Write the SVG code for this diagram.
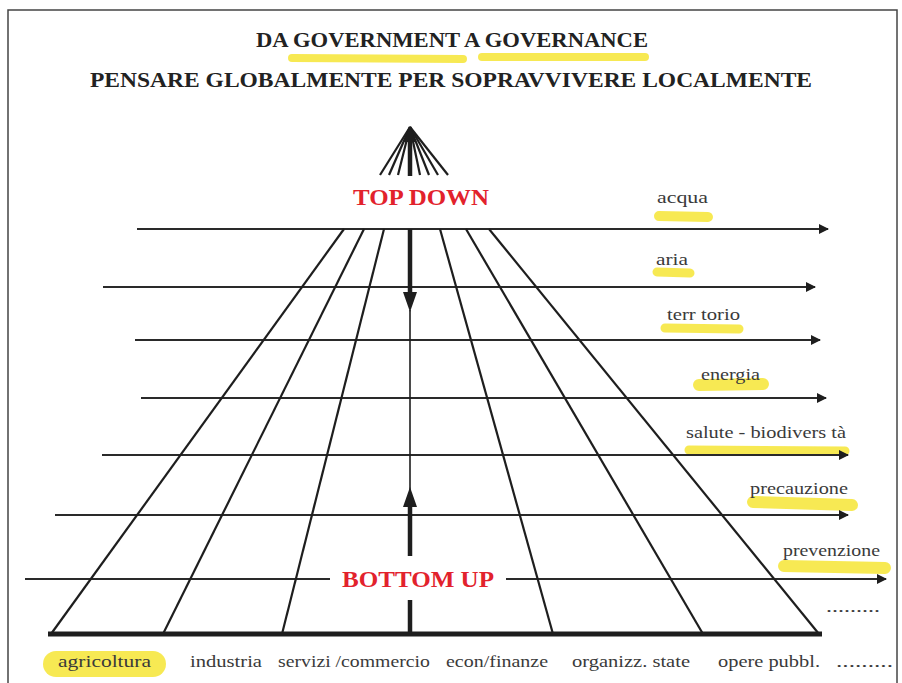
<svg xmlns="http://www.w3.org/2000/svg" width="902" height="683" viewBox="0 0 902 683">
<defs>
<style>
.title{font-family:"Liberation Serif","Times New Roman",serif;font-weight:bold;fill:#222}
.red{font-family:"Liberation Serif","Times New Roman",serif;font-weight:bold;fill:#e2222c;font-size:23px}
.lbl{font-family:"Liberation Serif","Times New Roman",serif;fill:#3a3a3a;font-size:17px}
.blbl{font-family:"Liberation Serif","Times New Roman",serif;fill:#3a3a3a;font-size:17px}
.hl{stroke:#f6e535;stroke-linecap:round;fill:none;opacity:0.85}
.h{stroke:#2a2a2a;stroke-width:2;fill:none}
.fan{stroke:#1e1e1e;stroke-width:2.2;fill:none}
.thick{stroke:#1e1e1e;stroke-width:4.5;fill:none}
</style>
<marker id="ah" viewBox="0 0 10 10" refX="9" refY="5" markerWidth="12" markerHeight="10" markerUnits="userSpaceOnUse" orient="auto">
<path d="M0,0 L10,5 L0,10 z" fill="#1e1e1e"/>
</marker>
</defs>
<rect x="0" y="0" width="902" height="683" fill="#fff"/>
<rect x="8" y="10" width="889" height="700" fill="none" stroke="#444" stroke-width="1.5"/>

<g id="highlights">
<path class="hl" d="M292,58 L463,59" stroke-width="8"/>
<path class="hl" d="M482,57 L645,57" stroke-width="8"/>
<path class="hl" d="M659,216 L708,217" stroke-width="10"/>
<path class="hl" d="M657,272 L690,273" stroke-width="9"/>
<path class="hl" d="M665,328 L739,329" stroke-width="9"/>
<path class="hl" d="M699,385 L763,384" stroke-width="12"/>
<path class="hl" d="M689,450 L845,451" stroke-width="9"/>
<path class="hl" d="M753,502 L852,505" stroke-width="12"/>
<path class="hl" d="M784,566 L885,568" stroke-width="12"/>
<path class="hl" d="M56,664 L153,664" stroke-width="26"/>
</g>

<g id="title">
<text class="title" x="256" y="47" font-size="21" textLength="392" lengthAdjust="spacingAndGlyphs">DA GOVERNMENT A GOVERNANCE</text>
<text class="title" x="90" y="87" font-size="22" textLength="722" lengthAdjust="spacingAndGlyphs">PENSARE  GLOBALMENTE  PER  SOPRAVVIVERE  LOCALMENTE</text>
</g>

<g id="connectors">
<line class="h" x1="137" y1="229" x2="828" y2="229" marker-end="url(#ah)"/>
<line class="h" x1="103" y1="287" x2="815" y2="287" marker-end="url(#ah)"/>
<line class="h" x1="135" y1="340" x2="820" y2="340" marker-end="url(#ah)"/>
<line class="h" x1="141" y1="398" x2="826" y2="398" marker-end="url(#ah)"/>
<line class="h" x1="102" y1="455" x2="848" y2="455" marker-end="url(#ah)"/>
<line class="h" x1="55" y1="515" x2="848" y2="515" marker-end="url(#ah)"/>
<line class="h" x1="25" y1="579" x2="330" y2="579"/>
<line class="h" x1="506" y1="579" x2="886" y2="579" marker-end="url(#ah)"/>
<line class="fan" x1="344" y1="229" x2="51" y2="634"/>
<line class="fan" x1="364" y1="229" x2="163" y2="634"/>
<line class="fan" x1="384" y1="229" x2="282" y2="634"/>
<line class="fan" x1="440" y1="229" x2="553" y2="634"/>
<line class="fan" x1="466" y1="229" x2="703" y2="634"/>
<line class="fan" x1="489" y1="229" x2="819" y2="634"/>
<line class="thick" x1="410" y1="229" x2="410" y2="296"/>
<path d="M403,292 L417,292 L410,312 z" fill="#1e1e1e"/>
<line x1="410" y1="310" x2="410" y2="490" stroke="#1e1e1e" stroke-width="1.6"/>
<path d="M403,507 L417,507 L410,487 z" fill="#1e1e1e"/>
<line class="thick" x1="410" y1="505" x2="410" y2="556"/>
<line class="thick" x1="410" y1="600" x2="410" y2="634"/>
<line x1="48" y1="634" x2="822" y2="634" stroke="#1e1e1e" stroke-width="5"/>
<line x1="410" y1="127" x2="380" y2="175" class="fan" stroke-width="2"/>
<line x1="410" y1="127" x2="389" y2="175" class="fan" stroke-width="2"/>
<line x1="410" y1="127" x2="398" y2="175" class="fan" stroke-width="2"/>
<line x1="410" y1="127" x2="420" y2="175" class="fan" stroke-width="2"/>
<line x1="410" y1="127" x2="429" y2="175" class="fan" stroke-width="2"/>
<line x1="410" y1="127" x2="438" y2="175" class="fan" stroke-width="2"/>
<line x1="410" y1="127" x2="448" y2="175" class="fan" stroke-width="2"/>
<line x1="410" y1="130" x2="410" y2="176" stroke="#1e1e1e" stroke-width="4.5"/>
<path d="M410,126 L404,142 L416,142 z" fill="#1e1e1e"/>
</g>

<g id="top-down">
<text class="red" x="353" y="205" textLength="136" lengthAdjust="spacingAndGlyphs">TOP DOWN</text>
</g>
<g id="bottom-up">
<text class="red" x="342" y="587" textLength="152" lengthAdjust="spacingAndGlyphs">BOTTOM UP</text>
</g>

<g id="right-labels">
<text class="lbl" x="657" y="203" textLength="51" lengthAdjust="spacingAndGlyphs">acqua</text>
<text class="lbl" x="656" y="265" textLength="32" lengthAdjust="spacingAndGlyphs">aria</text>
<text class="lbl" x="667" y="320" textLength="73" lengthAdjust="spacingAndGlyphs">terr torio</text>
<text class="lbl" x="701" y="380" textLength="59" lengthAdjust="spacingAndGlyphs">energia</text>
<text class="lbl" x="686" y="438" textLength="160" lengthAdjust="spacingAndGlyphs">salute - biodivers tà</text>
<text class="lbl" x="750" y="494" textLength="98" lengthAdjust="spacingAndGlyphs">precauzione</text>
<text class="lbl" x="783" y="556" textLength="97" lengthAdjust="spacingAndGlyphs">prevenzione</text>
<text class="lbl" x="826" y="612" textLength="54" lengthAdjust="spacingAndGlyphs">.........</text>
</g>

<g id="bottom-labels">
<text class="blbl" x="58" y="667" textLength="93" lengthAdjust="spacingAndGlyphs">agricoltura</text>
<text class="blbl" x="190" y="667" textLength="72" lengthAdjust="spacingAndGlyphs">industria</text>
<text class="blbl" x="278" y="667" textLength="152" lengthAdjust="spacingAndGlyphs">servizi /commercio</text>
<text class="blbl" x="446" y="667" textLength="102" lengthAdjust="spacingAndGlyphs">econ/finanze</text>
<text class="blbl" x="572" y="667" textLength="118" lengthAdjust="spacingAndGlyphs">organizz. state</text>
<text class="blbl" x="718" y="667" textLength="102" lengthAdjust="spacingAndGlyphs">opere pubbl.</text>
<text class="blbl" x="836" y="667" textLength="57" lengthAdjust="spacingAndGlyphs">.........</text>
</g>
</svg>
